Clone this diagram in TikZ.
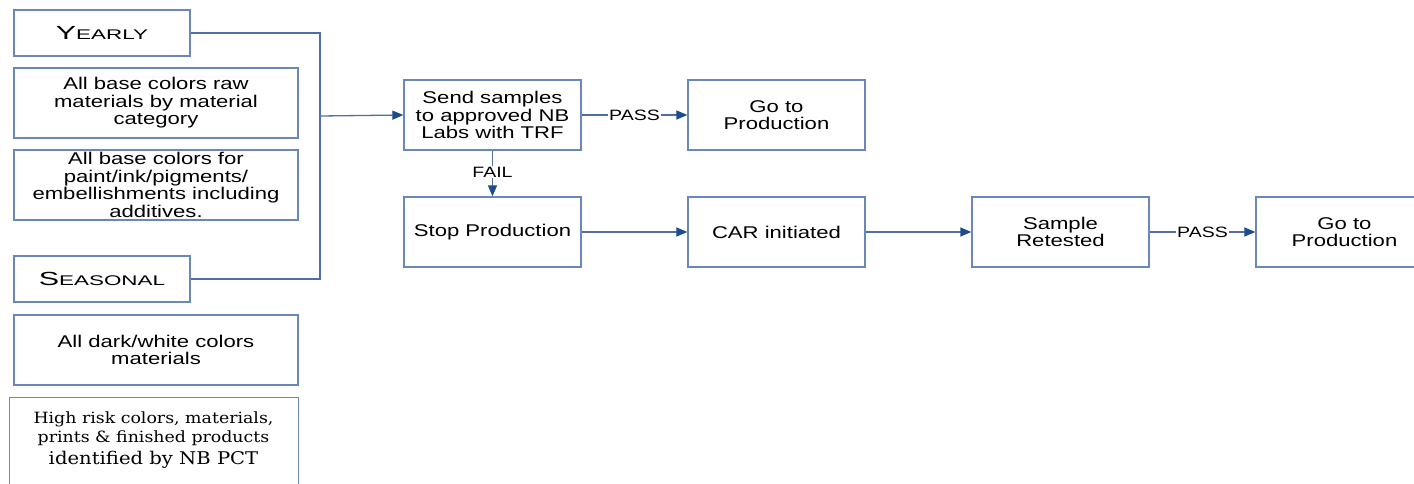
\documentclass[tikz,border=0pt]{standalone}
\usepackage{fontspec}
\setmainfont{Liberation Sans}[FakeStretch=1.3]
\newfontfamily\capsx{Liberation Sans}[FakeStretch=1.6]
\newfontfamily\serifx{DejaVu Serif}[FakeStretch=1.12]
\usetikzlibrary{arrows.meta}
\definecolor{boxline}{RGB}{105,135,185}
\definecolor{conline}{RGB}{80,112,165}
\definecolor{tipcol}{RGB}{30,75,140}
\tikzset{
  box/.style={draw=boxline, line width=1.3pt, fill=white, align=center, inner sep=2pt,
    font=\fontsize{17}{17.5}\selectfont},
  wide/.style={box, minimum width=284pt, minimum height=70pt},
  tag/.style={box, minimum width=176pt, minimum height=46pt},
  proc/.style={box, minimum width=177pt, minimum height=70pt},
  con/.style={draw=conline, line width=1.3pt},
  arr/.style={con, -{Triangle[length=11pt,width=9pt,color=tipcol]}},
  lbl/.style={fill=white, inner sep=1pt, font=\fontsize{15}{15}\selectfont}
}
\begin{document}
\begin{tikzpicture}[x=1pt,y=-1pt]
\clip (0,0) rectangle (1414,483);
\fill[white] (0,0) rectangle (1414,483);
\node[tag] (yearly) at (102,33) {\capsx{\fontsize{19}{20}\selectfont Y}{\fontsize{14}{20}\selectfont EARLY}};
\node[wide] (raw) at (156,103) {All base colors raw\\materials by material\\category};
\node[wide] (paint) at (156,185) {All base colors for\\paint/ink/pigments/\\embellishments including\\additives.};
\node[tag] (seasonal) at (102,279) {\capsx{\fontsize{19}{20}\selectfont S}{\fontsize{14}{20}\selectfont EASONAL}};
\node[wide] (dark) at (156,350) {All dark/white colors\\materials};
\node[box, minimum width=289pt, minimum height=110pt, anchor=north west] (risk) at (9,397) {};
\node[align=center, inner sep=0pt, font=\serifx\fontsize{15.5}{17}\selectfont] (risktext) at (153.5,440) {High risk colors, materials,\\[2pt]prints \& finished products\\[5pt]{\fontsize{17.5}{17}\selectfont identified by NB PCT}};

\node[proc] (send) at (492.5,115) {Send samples\\to approved NB\\Labs with TRF};
\node[proc] (go1) at (776.5,115) {Go to\\Production};
\node[proc] (stop) at (492.5,232) {Stop Production};
\node[proc] (car) at (776.5,232) {CAR initiated};
\node[proc] (retest) at (1060.5,232) {Sample\\Retested};
\node[proc] (go2) at (1344.5,232) {Go to\\Production};

\coordinate (bus) at (320,116);
\draw[con] (yearly.east) -| (bus) |- (seasonal.east);
\draw[arr] (bus) -- (send.west);
\draw[arr] (send.east) -- node[lbl] {PASS} (go1.west);
\draw[arr] (send.south) -- node[lbl, pos=0.47] {FAIL} (stop.north);
\draw[arr] (stop.east) -- (car.west);
\draw[arr] (car.east) -- (retest.west);
\draw[arr] (retest.east) -- node[lbl] {PASS} (go2.west);
\end{tikzpicture}
\end{document}
